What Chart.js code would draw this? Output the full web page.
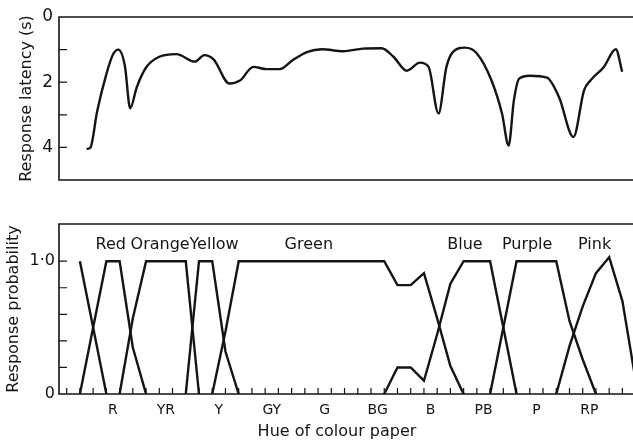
<!DOCTYPE html>
<html>
<head>
<meta charset="utf-8">
<script src="https://cdn.jsdelivr.net/npm/chart.js@4/dist/chart.umd.min.js"></script>
<style>
  html, body { margin: 0; padding: 0; background: #fff; }
  #wrap { position: relative; width: 633px; height: 442px; }
  #latency { position: absolute; left: 0; top: 0; }
  #prob { position: absolute; left: 0; top: 200px; }
</style>
</head>
<body>
<div id="wrap">
  <canvas id="latency" width="633" height="200"></canvas>
  <canvas id="prob" width="633" height="242"></canvas>
</div>
<script>
// hue axis: one unit = one Munsell step (2.5 hue)
const hueNames = ['R', 'YR', 'Y', 'GY', 'G', 'BG', 'B', 'PB', 'P', 'RP'];
const huePos = [2.5, 6.5, 10.5, 14.5, 18.5, 22.5, 26.5, 30.5, 34.5, 38.5];

// top panel: response latency (s)
const latencyHue = [0.5, 0.8, 1.3, 2.0, 2.5, 2.9, 3.4, 3.8, 4.3, 5.0, 6.0, 7.3, 8.7, 9.4, 10.1, 11.3, 12.1, 13.1, 14.1, 15.1,
  16.1, 17.2, 18.3, 19.9, 21.4, 22.8, 23.7, 24.7, 25.7, 26.35, 27.1, 27.7, 28.2, 29.1, 30.0, 31.1, 31.9, 32.4, 32.8, 33.2,
  34.0, 35.3, 36.2, 37.3, 38.1, 38.6, 39.6, 40.5, 40.98];
const latencySec = [4.05, 4.0, 2.9, 1.75, 1.15, 1.0, 1.5, 2.8, 2.15, 1.55, 1.22, 1.14, 1.37, 1.17, 1.3, 2.04, 1.95, 1.53, 1.6, 1.6,
  1.32, 1.07, 0.99, 1.05, 0.97, 0.96, 1.22, 1.65, 1.4, 1.53, 2.96, 1.53, 1.07, 0.94, 1.12, 1.94, 2.96, 3.94, 2.55, 1.89,
  1.8, 1.86, 2.45, 3.68, 2.25, 1.94, 1.53, 0.99, 1.68];

// bottom panel: response probability per colour name
const pinkTailHue = [0, 1, 2];
const pinkTailP = [1.0, 0.5, 0];
const redHue = [0, 1, 2, 3, 4, 5];
const redP = [0, 0.5, 1.0, 1.0, 0.35, 0];
const orangeHue = [3, 4, 5, 8, 9];
const orangeP = [0, 0.57, 1.0, 1.0, 0];
const yellowHue = [8, 9, 10, 11, 12];
const yellowP = [0, 1.0, 1.0, 0.32, 0];
const greenHue = [10, 11, 12, 23, 24, 25, 26, 27, 28, 29];
const greenP = [0, 0.47, 1.0, 1.0, 0.82, 0.82, 0.91, 0.57, 0.21, 0];
const blueHue = [23, 24, 25, 26, 27, 28, 29, 31, 32, 33];
const blueP = [0, 0.2, 0.2, 0.1, 0.45, 0.83, 1.0, 1.0, 0.5, 0];
const purpleHue = [31, 32, 33, 36, 37, 38, 39];
const purpleP = [0, 0.5, 1.0, 1.0, 0.55, 0.26, 0];
const pinkHue = [36, 37, 38, 39, 40, 41, 42];
const pinkP = [0, 0.36, 0.66, 0.91, 1.03, 0.7, 0.1];

const colourNames = ['Red', 'Orange', 'Yellow', 'Green', 'Blue', 'Purple', 'Pink'];
const colourNameHue = [2.33, 6.06, 10.14, 17.3, 29.1, 33.8, 38.9];
const colourNameY = 1.12;

const latencyTicks = [1, 2, 3, 4];
const probTicks = [0.2, 0.4, 0.6, 0.8, 1.0];

const ink = '#141414';
const font = 'DejaVu Sans';
const hueMin = -1.58, hueMax = 41.8;

const pts = (xs, ys) => xs.map((x, i) => ({ x: x, y: ys[i] }));

// frame, inward ticks, in-plot labels
const framePlugin = {
  id: 'frame',
  afterDraw(chart, args, opts) {
    const { ctx, chartArea: a, scales } = chart;
    ctx.save();
    ctx.strokeStyle = ink;
    ctx.lineWidth = 1.6;
    ctx.beginPath();
    ctx.moveTo(chart.width, a.top);
    ctx.lineTo(a.left, a.top);
    ctx.lineTo(a.left, a.bottom);
    ctx.lineTo(chart.width, a.bottom);
    ctx.stroke();
    ctx.lineWidth = 1.2;
    ctx.beginPath();
    (opts.yTicks || []).forEach(v => {
      const y = scales.y.getPixelForValue(v);
      ctx.moveTo(a.left, y);
      ctx.lineTo(a.left + 8, y);
    });
    if (opts.xMinor) {
      for (let h = Math.ceil(hueMin); h <= hueMax; h++) {
        const x = scales.x.getPixelForValue(h);
        ctx.moveTo(x, a.bottom);
        ctx.lineTo(x, a.bottom - 6);
      }
    }
    ctx.stroke();
    ctx.fillStyle = ink;
    ctx.textAlign = 'center';
    ctx.textBaseline = 'middle';
    if (opts.names) {
      ctx.font = '16px "' + font + '"';
      colourNames.forEach((n, i) => {
        ctx.fillText(n, scales.x.getPixelForValue(colourNameHue[i]), scales.y.getPixelForValue(colourNameY));
      });
    }
    if (opts.xTitle) {
      ctx.font = '16px "' + font + '"';
      ctx.fillText(opts.xTitle, 337, 232);
    }
    ctx.restore();
  }
};

const lineStyle = {
  borderColor: ink,
  borderWidth: 2.4,
  pointRadius: 0,
  fill: false
};

new Chart(document.getElementById('latency'), {
  type: 'line',
  data: {
    datasets: [Object.assign({ data: pts(latencyHue, latencySec), cubicInterpolationMode: 'monotone' }, lineStyle)]
  },
  options: {
    responsive: false,
    animation: false,
    layout: { padding: { top: 17, bottom: 20, left: 0, right: 0 } },
    plugins: {
      legend: { display: false },
      tooltip: { enabled: false },
      frame: { yTicks: latencyTicks }
    },
    scales: {
      x: { type: 'linear', min: hueMin, max: hueMax, display: false },
      y: {
        min: 0, max: 5, reverse: true,
        afterFit: s => { s.width = 59; },
        grid: { display: false, drawTicks: false, tickLength: 0 },
        border: { display: false },
        ticks: {
          stepSize: 1, padding: 6, color: ink,
          font: { family: font, size: 17 },
          callback: v => (v % 2 === 0 && v <= 4) ? String(v) : ''
        },
        title: {
          display: true, text: 'Response latency (s)', color: ink,
          font: { family: font, size: 16 }, padding: { top: 17, bottom: 0 }
        }
      }
    }
  },
  plugins: [framePlugin]
});

new Chart(document.getElementById('prob'), {
  type: 'line',
  data: {
    datasets: [
      pts(pinkTailHue, pinkTailP), pts(redHue, redP), pts(orangeHue, orangeP), pts(yellowHue, yellowP),
      pts(greenHue, greenP), pts(blueHue, blueP), pts(purpleHue, purpleP), pts(pinkHue, pinkP)
    ].map(d => Object.assign({ data: d, tension: 0 }, lineStyle))
  },
  options: {
    responsive: false,
    animation: false,
    layout: { padding: { top: 24, bottom: 0, left: 0, right: 0 } },
    plugins: {
      legend: { display: false },
      tooltip: { enabled: false },
      frame: { yTicks: probTicks, xMinor: true, names: true, xTitle: 'Hue of colour paper' }
    },
    scales: {
      x: {
        type: 'linear', min: hueMin, max: hueMax,
        afterFit: s => { s.height = 48; },
        afterBuildTicks: s => { s.ticks = huePos.map(v => ({ value: v })); },
        grid: { display: false, drawTicks: false, tickLength: 0 },
        border: { display: false },
        ticks: {
          autoSkip: false, maxRotation: 0, padding: 8, color: ink,
          font: { family: font, size: 14 },
          callback: v => hueNames[huePos.indexOf(v)] || ''
        }
      },
      y: {
        min: 0, max: 1.28,
        afterFit: s => { s.width = 59; },
        grid: { display: false, drawTicks: false, tickLength: 0 },
        border: { display: false },
        ticks: {
          stepSize: 0.2, padding: 4, color: ink,
          font: { family: font, size: 16 },
          callback: v => v === 0 ? '0' : (Math.abs(v - 1) < 1e-6 ? '1·0' : '')
        },
        title: {
          display: true, text: 'Response probability', color: ink,
          font: { family: font, size: 16 }, padding: { top: 4, bottom: 0 }
        }
      }
    }
  },
  plugins: [framePlugin]
});
</script>
</body>
</html>
